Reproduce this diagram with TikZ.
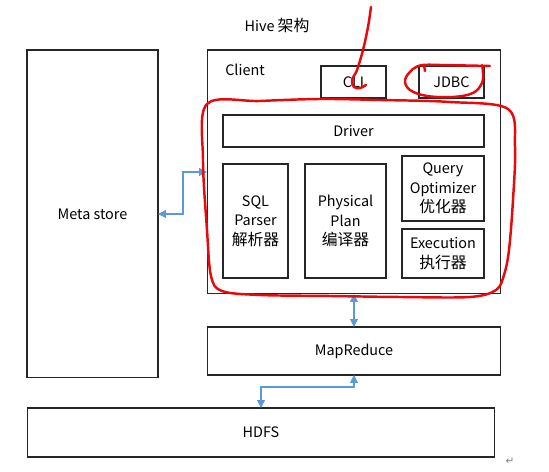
\documentclass[tikz,border=0pt]{standalone}
\usepackage{fontspec}
\setmainfont{Noto Sans CJK SC}
\newfontfamily\symbfont{DejaVu Sans}
\usetikzlibrary{arrows.meta}

\definecolor{linkblue}{RGB}{91,155,213}
\definecolor{penred}{RGB}{232,10,10}
\newcommand{\zh}[1]{{\fontsize{9}{11}\selectfont #1}}

\tikzset{
  box/.style={draw=black!85, line width=0.6pt, inner sep=0pt, outer sep=0pt, align=center},
  link/.style={linkblue, line width=0.6pt, {Triangle[width=4.5pt,length=4.5pt]}-{Triangle[width=4.5pt,length=4.5pt]}},
  pen/.style={penred, line width=1.4pt, line cap=round, line join=round}
}

\begin{document}
\begin{tikzpicture}[x=0.02cm, y=-0.02cm, font=\fontsize{8.2}{11}\selectfont]
      \useasboundingbox (0,0) rectangle (549,472);

      \node at (277,26) {Hive \zh{架构}};

      \node[box, minimum width=2.62cm, minimum height=6.56cm] (meta) at (92.5,214) {Meta store};
      \node[box, minimum width=5.88cm, minimum height=4.88cm] (hive) at (354,172) {};
      \node (client) at (245,70) {Client};
      \node[box, minimum width=1.3cm, minimum height=0.64cm] (cli) at (353.5,82) {CLI};
      \node[box, minimum width=1.3cm, minimum height=0.64cm] (jdbc) at (451.5,82) {JDBC};
      \node[box, minimum width=5.22cm, minimum height=0.64cm] (driver) at (353.5,131) {Driver};
      \node[box, minimum width=1.3cm, minimum height=2.28cm] (parser) at (255.5,221) {SQL\\Parser\\\zh{解析器}};
      \node[box, minimum width=1.62cm, minimum height=2.28cm] (plan) at (345.5,221) {Physical\\Plan\\\zh{编译器}};
      \node[box, minimum width=1.64cm, minimum height=1.3cm] (optimizer) at (443,188.5) {Query\\Optimizer\\\zh{优化器}};
      \node[box, minimum width=1.64cm, minimum height=0.98cm] (executor) at (443,253.5) {Execution\\\zh{执行器}};
      \node[box, minimum width=5.88cm, minimum height=0.96cm] (mapred) at (354,351) {MapReduce};
      \node[box, minimum width=9.36cm, minimum height=0.98cm] (hdfs) at (261,432.5) {HDFS};
      \node[black!50, font=\symbfont\fontsize{6}{6}\selectfont] (mark) at (510,461) {↵};

      \draw[link] (meta.east) -- ++(25,0) |- (hive.west);
      \draw[link] (hive.south) -- (mapred.north);
      \draw[link] (mapred.south) -- ++(0,12) -| (hdfs.north);

      % hand marks
      \draw[pen] plot[smooth, tension=0.6] coordinates {(371,7) (368,27) (363,50) (357,70) (352,80) (354,87) (360,88) (366,85)};
      \draw[pen] plot[smooth, tension=0.6] coordinates {(490,66) (440,65) (423,65) (413,69) (405,80) (410,90) (427,96) (453,97) (473,93) (482,83) (483,72) (482,65)};
      \draw[pen] (424,65) -- (425,71);
      \draw[pen] plot[smooth cycle, tension=0.55] coordinates {(207,104) (260,101) (320,99) (380,100) (450,102) (508,109) (515,147) (513,200) (509,250) (504,275) (496,290) (470,297) (400,297) (330,296) (260,295) (222,291) (211,276) (207,230) (203,160)};
\end{tikzpicture}
\end{document}
